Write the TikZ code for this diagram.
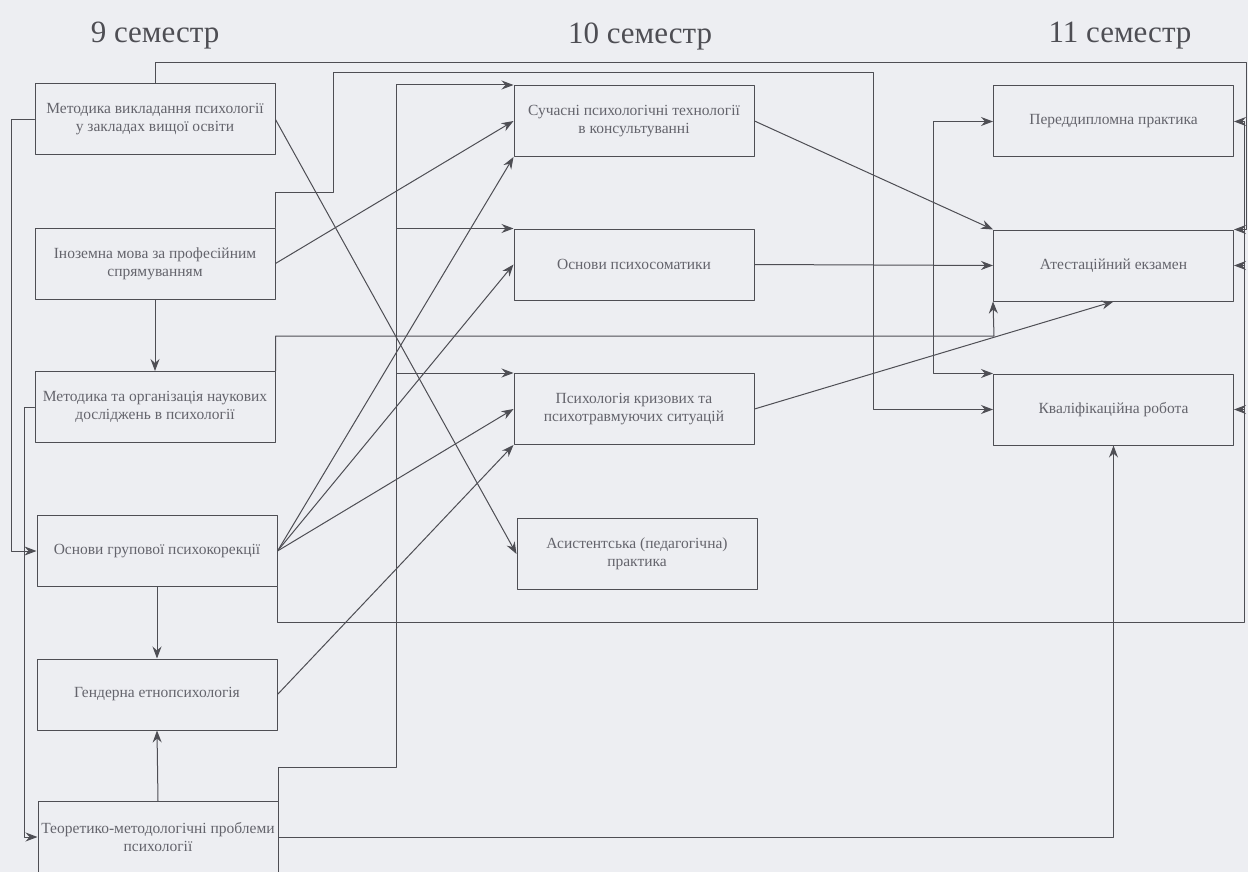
\documentclass[tikz,border=0pt]{standalone}
\usepackage{fontspec}
\setmainfont{Liberation Serif}
\usetikzlibrary{arrows.meta}
\definecolor{bg}{RGB}{237,238,242}
\definecolor{ln}{RGB}{78,78,84}
\definecolor{tx}{RGB}{100,100,108}
\begin{document}
\begin{tikzpicture}[x=1pt,y=-1pt,>={Stealth[length=12pt,width=9pt,inset=4pt]}, line join=round, line cap=round,
	box/.style={draw=ln, line width=1pt, minimum width=240pt, minimum height=71pt, align=center, text=tx, font=\fontsize{15.5}{18}\selectfont, inner sep=1pt},
	con/.style={draw=ln, line width=1pt},
	arr/.style={con,->},
	sem/.style={text=ln, font=\fontsize{31}{33}\selectfont}]
	\useasboundingbox[fill=bg] (0,0) rectangle (1248,872);
	\node[sem] (s9) at (155,36) {9 семестр};
	\node[sem] (s10) at (640,36) {10 семестр};
	\node[sem] (s11) at (1120,36) {11 семестр};
	% 9 семестр
	\node[box] (L1) at (155,119.5) {Методика викладання психології\\у закладах вищої освіти};
	\node[box] (L2) at (155,263.5) {Іноземна мова за професійним\\спрямуванням};
	\node[box] (L3) at (155,407) {Методика та організація наукових\\досліджень в психології};
	\node[box] (L4) at (157,551) {Основи групової психокорекції};
	\node[box] (L5) at (157,694.5) {Гендерна етнопсихологія};
	\node[box] (L6) at (158,837) {Теоретико-методологічні проблеми\\психології};
	% 10 семестр
	\node[box] (M1) at (634,121) {Сучасні психологічні технології\\в консультуванні};
	\node[box] (M2) at (634,264.5) {Основи психосоматики};
	\node[box] (M3) at (634,409) {Психологія кризових та\\психотравмуючих ситуацій};
	\node[box] (M4) at (637,554) {Асистентська (педагогічна)\\практика};
	% 11 семестр
	\node[box] (R1) at (1113.5,121.5) {Переддипломна практика};
	\node[box] (R2) at (1113.5,265.5) {Атестаційний екзамен};
	\node[box] (R3) at (1113.5,409.5) {Кваліфікаційна робота};
	% точки зламу
	\coordinate (t1) at (1246,63);
	\coordinate (t2) at (333,192);
	\coordinate (t3) at (873,73);
	\coordinate (k1) at (933,336);
	\coordinate (k2) at (994,336);
	\coordinate (v1) at (396,767);
	\coordinate (v2) at (1244,622);
	% ліва колонка
	\draw[arr] (L1.west) -- ++(-23,0) |- (L4.west);
	\draw[arr] (L3.west) -- ++(-10,0) |- (L6.west);
	\draw[arr] (L2.south) -- (L3.north);
	\draw[arr] (L4.south) -- (L5.north);
	\draw[arr] (L6.north) -- (L5.south);
	% обхідні лінії
	\draw[arr] (L1.north) |- (t1) |- (R2.north east);
	\draw[arr] (L2.north east) |- (t2) |- (t3) |- (R3.west);
	\draw[arr] (L3.north east) |- (k2) -- (R2.south west);
	\draw[arr] (k1) |- (R1.west);
	\draw[arr] (k1) |- (R3.north west);
	\draw[con] (L6.north east) |- (v1);
	\foreach \m in {M1,M2,M3}
	\draw[arr] (v1) |- (\m.north west);
	\draw[arr] (L6.east) -| (R3.south);
	\draw[con] (L4.south east) |- (v2);
	\foreach \r in {R1,R2,R3}
	\draw[arr] (v2) |- (\r.east);
	% похилі
	\draw[arr] (L1.east) -- (M4.west);
	\draw[arr] (L2.east) -- (M1.west);
	\foreach \m in {M1.south west,M2.west,M3.west}
	\draw[arr] (L4.east) -- (\m);
	\draw[arr] (L5.east) -- (M3.south west);
	\draw[arr] (M1.east) -- (R2.north west);
	\draw[arr] (M2.east) -- (R2.west);
	\draw[arr] (M3.east) -- (R2.south);
\end{tikzpicture}
\end{document}
